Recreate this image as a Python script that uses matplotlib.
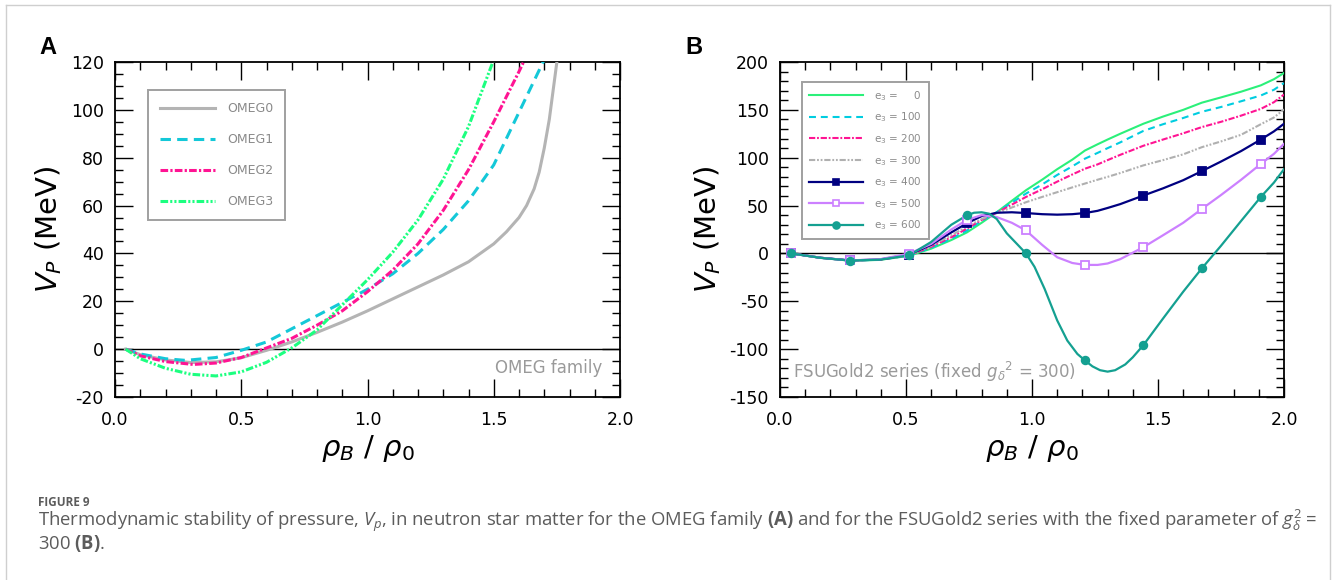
import matplotlib
matplotlib.use('Agg')
import matplotlib.pyplot as plt
import numpy as np
from matplotlib.ticker import MultipleLocator, FormatStrFormatter
from matplotlib.lines import Line2D

plt.rcParams['axes.unicode_minus'] = False
plt.rcParams['lines.scale_dashes'] = False
plt.rcParams['mathtext.fontset'] = 'dejavusans'
plt.rcParams['mathtext.rm'] = 'Open Sans'
plt.rcParams['mathtext.it'] = 'Open Sans:italic'
plt.rcParams['mathtext.bf'] = 'Open Sans:bold'

# ---------------- Panel A data (OMEG family) ----------------
omeg0_x = [0.042, 0.1, 0.2, 0.3, 0.4, 0.5, 0.6, 0.7, 0.8, 0.9, 1.0, 1.1, 1.2, 1.3, 1.4, 1.5,
           1.55, 1.6, 1.63, 1.66, 1.68, 1.70, 1.72, 1.74, 1.76]
omeg0_y = [0, -2.3, -4.5, -5.6, -5.3, -3.6, -0.5, 3, 7, 11.3, 16, 21, 26, 31, 36.5, 44,
           49, 55, 60, 67, 74, 84, 96, 112, 128]
omeg1_x = [0.042, 0.1, 0.2, 0.28, 0.4, 0.5, 0.6, 0.7, 0.8, 0.9, 1.0, 1.1, 1.2, 1.3, 1.4, 1.5, 1.6, 1.7]
omeg1_y = [0, -2, -4, -4.7, -3.5, -0.5, 3, 8.5, 14, 19.5, 25, 31.5, 40, 50, 62, 77, 99, 121]
omeg2_x = [0.042, 0.1, 0.2, 0.31, 0.4, 0.5, 0.6, 0.7, 0.8, 0.9, 1.0, 1.1, 1.2, 1.3, 1.4, 1.5, 1.6, 1.65]
omeg2_y = [0, -2.8, -5.2, -6.4, -5.8, -3.5, 0.5, 4.5, 10, 16, 24, 33, 44, 58, 75, 95, 116, 127]
omeg3_x = [0.042, 0.1, 0.2, 0.3, 0.4, 0.5, 0.6, 0.7, 0.8, 0.9, 1.0, 1.1, 1.2, 1.3, 1.4, 1.5]
omeg3_y = [0, -4, -8, -10.5, -11.2, -9.5, -5.5, 0.5, 8, 18.5, 29, 40.5, 54, 71, 93, 121]
omeg_labels = ['OMEG0', 'OMEG1', 'OMEG2', 'OMEG3']

# ---------------- Panel B data (FSUGold2 series) ----------------
bx = [0.045, 0.16, 0.276, 0.394, 0.512, 0.6, 0.68, 0.742, 0.8, 0.86, 0.92, 0.976, 1.04, 1.1,
      1.16, 1.21, 1.26, 1.3, 1.35, 1.442, 1.52, 1.6, 1.674, 1.75, 1.83, 1.908, 1.96, 2.0]
e0 = [0, -4.5, -7.5, -6.8, -2.5, 5, 14, 22, 32, 43, 55, 66, 77, 88, 98, 107.5, 114, 119, 125,
      135.5, 143, 150, 157.5, 163, 169, 175.6, 182, 188.5]
e100 = [0, -4.5, -7.4, -6.7, -2.2, 6, 15.5, 24, 34, 43, 53, 62.5, 72, 82, 91, 99, 105, 110, 116,
        128, 135, 141.5, 148, 153, 159, 165, 171, 178]
e200 = [0, -4.5, -7.3, -6.6, -2, 7, 17, 26, 35, 42.5, 51, 59, 67, 75, 82.5, 88.5, 93, 97.5, 103,
        112.5, 119, 125.5, 132, 137.5, 144, 151, 158, 166]
e300 = [0, -4.5, -7.3, -6.5, -1.7, 8, 19, 28, 36, 42, 48, 53.5, 59, 64, 69, 73, 77, 80, 84,
        92, 97.5, 103.5, 111, 117, 124, 135, 142, 150.5]
e400 = [0, -4.5, -7.3, -6.4, -1.2, 9, 22, 31.5, 39, 42.5, 43, 42.2, 41, 40.5, 41, 42.2, 44.5,
        47.5, 51.5, 60.5, 68, 76.5, 86, 96, 107, 119, 127.5, 135.5]
e500 = [0, -4.5, -7.3, -6.2, -0.3, 10, 25, 35, 40, 38, 32, 24, 9, -4, -10, -12, -12, -10.5,
        -6, 6.5, 19, 32, 46.5, 61, 77, 93.5, 104, 114.5]
e600_x = [0.045, 0.16, 0.276, 0.394, 0.512, 0.6, 0.68, 0.742, 0.77, 0.8, 0.83, 0.86, 0.9, 0.94,
          0.976, 1.01, 1.05, 1.1, 1.14, 1.18, 1.21, 1.24, 1.27, 1.3, 1.33, 1.37, 1.40, 1.442,
          1.52, 1.6, 1.674, 1.75, 1.83, 1.908, 1.96, 2.0]
e600 = [0, -4.6, -7.4, -6.6, -2, 12, 30, 39.8, 42.5, 43, 41.5, 36, 21, 10, 0, -14, -37, -70,
        -91, -105, -111.8, -118, -122, -123.5, -122, -116, -108.5, -95.8, -68, -40, -15.6, 8,
        34, 59, 74, 88]
# x positions of the symbols drawn on the e3 = 400, 500, 600 curves
marker_x = [0.045, 0.276, 0.512, 0.742, 0.976, 1.21, 1.442, 1.674, 1.908]
e3_labels = ['$\\mathregular{e_3}$ = \u2007\u20070', '$\\mathregular{e_3}$ = 100',
             '$\\mathregular{e_3}$ = 200', '$\\mathregular{e_3}$ = 300',
             '$\\mathregular{e_3}$ = 400', '$\\mathregular{e_3}$ = 500',
             '$\\mathregular{e_3}$ = 600']

W, H = 1335, 580
fig = plt.figure(figsize=(W / 100, H / 100), dpi=100)

axA = fig.add_axes([115 / W, 1 - 397 / H, 505 / W, 335 / H])
axB = fig.add_axes([780 / W, 1 - 397 / H, 504 / W, 335 / H])


def style(ax, ymaj, ymin):
    ax.xaxis.set_major_locator(MultipleLocator(0.5))
    ax.xaxis.set_minor_locator(MultipleLocator(0.1))
    ax.yaxis.set_major_locator(MultipleLocator(ymaj))
    ax.yaxis.set_minor_locator(MultipleLocator(ymin))
    ax.xaxis.set_major_formatter(FormatStrFormatter('%.1f'))
    ax.yaxis.set_major_formatter(FormatStrFormatter('%d'))
    ax.tick_params(which='both', direction='in', top=True, right=True,
                   labelsize=12.5, width=1.0, color='black')
    ax.tick_params(which='major', length=13)
    ax.tick_params(which='minor', length=6)
    ax.tick_params(axis='x', pad=10)
    ax.tick_params(axis='y', pad=8)
    for s in ax.spines.values():
        s.set_linewidth(1.3)
    ax.set_xlabel(r'$\rho_B$ / $\rho_0$', fontsize=21, labelpad=3)
    ax.set_ylabel(r'$V_P$ (MeV)', fontsize=21, labelpad=5)


# ---------------- Panel A ----------------
style(axA, 20, 5)
axA.set_xlim(0, 2)
axA.set_ylim(-20, 120)
axA.axhline(0, color='black', lw=1.0, zorder=1)
cA = ['#b4b4b4', '#14c8d8', '#ff1493', '#1cff80']
lsA = ['-', (0, (7.5, 4.5)), (0, (5.5, 1.6, 1.6, 1.6)), (0, (5.5, 1.5, 1.5, 1.5, 1.5, 1.5))]
for xs, ys, c, ls, lab in zip([omeg0_x, omeg1_x, omeg2_x, omeg3_x],
                              [omeg0_y, omeg1_y, omeg2_y, omeg3_y], cA, lsA, omeg_labels):
    axA.plot(xs, ys, color=c, ls=ls, lw=2.2, label=lab, zorder=3)
legA = axA.legend(loc='upper left', bbox_to_anchor=(0.0653, 0.916), borderaxespad=0,
                  fontsize=9, handlelength=4.4, handletextpad=1.0, labelspacing=1.45,
                  borderpad=0.95, fancybox=False, framealpha=1, edgecolor='#a0a0a0',
                  labelcolor='#8a8a8a')
legA.get_frame().set_linewidth(1.4)
axA.text(0.965, 0.087, 'OMEG family', transform=axA.transAxes, ha='right', va='center',
         fontsize=12, color='#9a9a9a')

# ---------------- Panel B ----------------
style(axB, 50, 10)
axB.set_xlim(0, 2)
axB.set_ylim(-150, 200)
axB.axhline(0, color='black', lw=1.0, zorder=1)
cB = ['#2bf07a', '#00cde0', '#ff1493', '#b0b0b0', '#000080', '#cc80ff', '#14a091']
lsB = ['-', (0, (5, 3.5)), (0, (4.5, 1.3, 1.3, 1.3)), (0, (4.5, 1.3, 1.3, 1.3, 1.3, 1.3)),
       '-', '-', '-']
series_x = [bx, bx, bx, bx, bx, bx, e600_x]
series = [e0, e100, e200, e300, e400, e500, e600]
mk = [None, None, None, None, 's', 's', 'o']
mfc = [None, None, None, None, '#000080', 'white', '#14a091']
handles = []
for xs, ys, c, ls, m, fc in zip(series_x, series, cB, lsB, mk, mfc):
    lw = 1.5 if m is None else 1.6
    axB.plot(xs, ys, color=c, ls=ls, lw=lw, zorder=3)
    if m is not None:
        ym = np.interp(marker_x, xs, ys)
        axB.plot(marker_x, ym, ls='none', marker=m, ms=5.5,
                 mfc=fc, mec=c, mew=1.3, zorder=4)
    handles.append(Line2D([], [], color=c, ls=ls, lw=lw, marker=m, ms=5.0,
                          mfc=fc, mec=c, mew=1.2))
legB = axB.legend(handles, e3_labels, loc='upper left', bbox_to_anchor=(0.0437, 0.94),
                  borderaxespad=0, fontsize=7.5, handlelength=5.2, handletextpad=1.1,
                  labelspacing=0.75, borderpad=0.65, numpoints=1, fancybox=False,
                  framealpha=1, edgecolor='#a0a0a0', labelcolor='#8a8a8a')
legB.get_frame().set_linewidth(1.4)
axB.text(0.026, 0.075, r'FSUGold2 series (fixed $g_\delta{}^2$ = 300)', transform=axB.transAxes,
         ha='left', va='center', fontsize=12, color='#9a9a9a')

# panel letters
fig.text(39 / W, 1 - 48 / H, 'A', fontsize=17, fontweight='bold', va='center', ha='left',
         family=['Liberation Sans', 'DejaVu Sans'])
fig.text(685 / W, 1 - 48 / H, 'B', fontsize=17, fontweight='bold', va='center', ha='left',
         family=['Liberation Sans', 'DejaVu Sans'])

# page border
for (x0, y0, x1, y1) in [(5.5, 4.5, 5.5, 580), (5.5, 4.5, 1329.5, 4.5), (1329.5, 4.5, 1329.5, 580)]:
    fig.add_artist(Line2D([x0 / W, x1 / W], [1 - y0 / H, 1 - y1 / H], color='#cfcfcf', lw=1.0,
                          transform=fig.transFigure))

# caption
cap_color = '#5c5c5c'
capfam = ['Open Sans', 'DejaVu Sans']
fig.text(38 / W, 1 - 502 / H, 'FIGURE 9', fontsize=8.5, fontweight='bold', color=cap_color,
         va='center', ha='left', family=capfam)
line1 = (r'Thermodynamic stability of pressure, $V_p$, in neutron star matter for the OMEG family '
         r'$\mathbf{(A)}$ and for the FSUGold2 series with the fixed parameter of $g_\delta^2$ =')
line2 = r'300 $\mathbf{(B)}$.'
t1 = fig.text(38 / W, 1 - 521 / H, line1, fontsize=12, color=cap_color, va='center', ha='left',
              family=capfam, math_fontfamily='custom')
t2 = fig.text(38 / W, 1 - 543 / H, line2, fontsize=12, color=cap_color, va='center', ha='left',
              family=capfam, math_fontfamily='custom')
r = fig.canvas.get_renderer()
w = t1.get_window_extent(r).width
fs = 12 * 1280 / w
t1.set_fontsize(fs)
t2.set_fontsize(fs)

fig.savefig('out.png', dpi=100)
